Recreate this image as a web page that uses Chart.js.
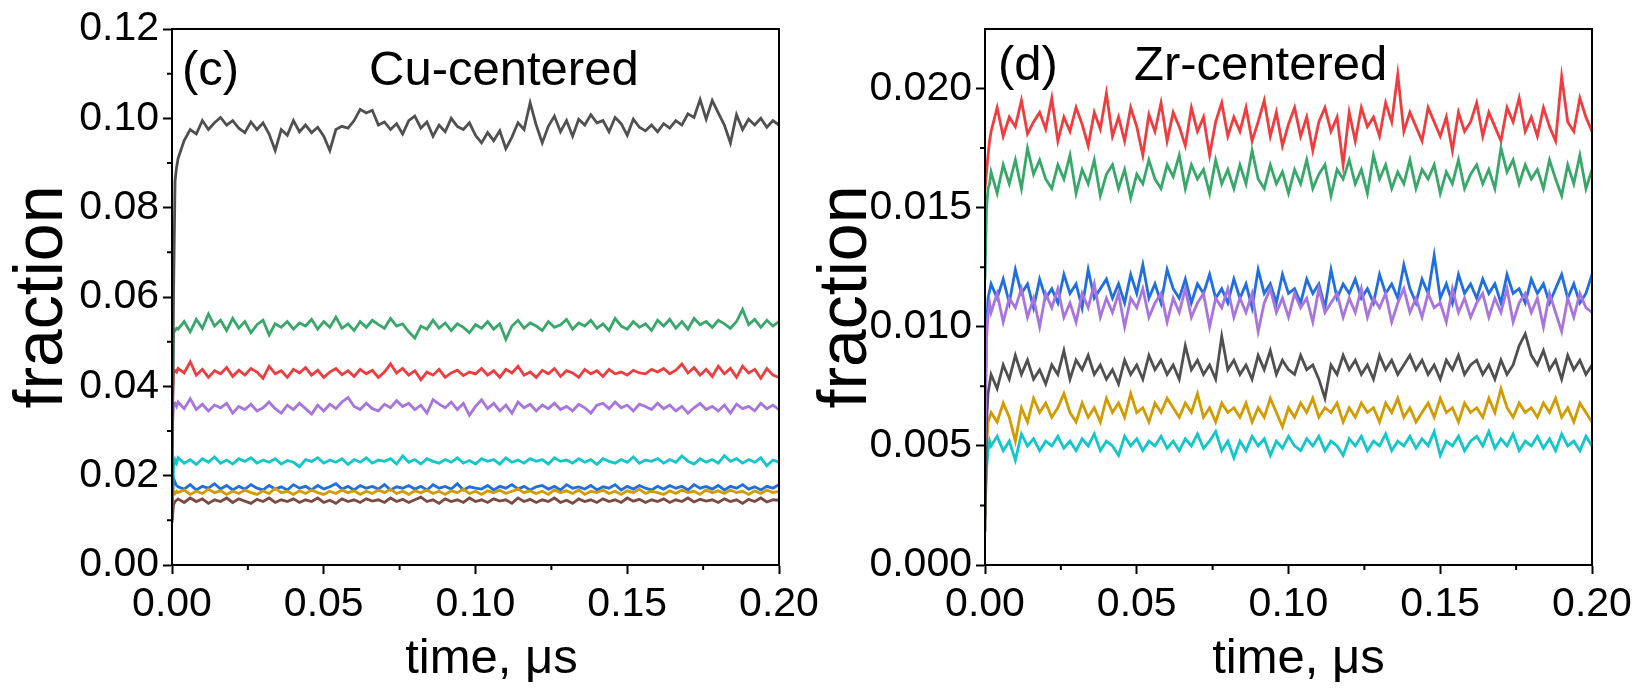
<!DOCTYPE html>
<html lang="en">
<head>
<meta charset="UTF-8">
<title>Cu / Zr centered fractions</title>
<script src="https://cdn.jsdelivr.net/npm/chart.js"></script>
<style>
  body { margin: 0; background: #fff; }
  .wrap { position: relative; width: 1638px; height: 694px; overflow: hidden; }
  canvas { position: absolute; top: 0; }
  #panelC { left: 0; }
  #panelD { left: 805px; }
</style>
</head>
<body>
<div class="wrap">
  <canvas id="panelC" width="830" height="694"></canvas>
  <canvas id="panelD" width="833" height="694"></canvas>
</div>

<script>
// time axis, microseconds
const time = [0, 0.0005, 0.001, 0.0015,
  0.002, 0.004, 0.006, 0.008, 0.010, 0.012, 0.014, 0.016, 0.018, 0.020,
  0.022, 0.024, 0.026, 0.028, 0.030, 0.032, 0.034, 0.036, 0.038, 0.040,
  0.042, 0.044, 0.046, 0.048, 0.050, 0.052, 0.054, 0.056, 0.058, 0.060,
  0.062, 0.064, 0.066, 0.068, 0.070, 0.072, 0.074, 0.076, 0.078, 0.080,
  0.082, 0.084, 0.086, 0.088, 0.090, 0.092, 0.094, 0.096, 0.098, 0.100,
  0.102, 0.104, 0.106, 0.108, 0.110, 0.112, 0.114, 0.116, 0.118, 0.120,
  0.122, 0.124, 0.126, 0.128, 0.130, 0.132, 0.134, 0.136, 0.138, 0.140,
  0.142, 0.144, 0.146, 0.148, 0.150, 0.152, 0.154, 0.156, 0.158, 0.160,
  0.162, 0.164, 0.166, 0.168, 0.170, 0.172, 0.174, 0.176, 0.178, 0.180,
  0.182, 0.184, 0.186, 0.188, 0.190, 0.192, 0.194, 0.196, 0.198, 0.200];

// (c) Cu-centered
const cuGray = [0.010, 0.060, 0.086, 0.089,
  0.091, 0.095, 0.0975, 0.0965, 0.0995, 0.0975, 0.0990, 0.1002, 0.0985, 0.0995,
  0.0978, 0.0968, 0.0992, 0.0975, 0.0990, 0.0965, 0.0928, 0.0975, 0.0962, 0.0995,
  0.0970, 0.0985, 0.0968, 0.0980, 0.0960, 0.0928, 0.0975, 0.0982, 0.0978, 0.0995,
  0.1020, 0.1012, 0.1018, 0.0985, 0.0992, 0.0975, 0.0988, 0.0965, 0.0995, 0.1005,
  0.0978, 0.0992, 0.0960, 0.0985, 0.0970, 0.1000, 0.0982, 0.0975, 0.0990, 0.0962,
  0.0945, 0.0968, 0.0950, 0.0972, 0.0932, 0.0958, 0.0990, 0.0975, 0.1035, 0.0985,
  0.0945, 0.0982, 0.1005, 0.0970, 0.0995, 0.0960, 0.0998, 0.0985, 0.1008, 0.0990,
  0.0995, 0.0970, 0.1002, 0.0988, 0.0962, 0.0998, 0.0980, 0.0972, 0.0985, 0.0970,
  0.0988, 0.0978, 0.0995, 0.0985, 0.1010, 0.1002, 0.1042, 0.0998, 0.1040, 0.1012,
  0.0985, 0.0945, 0.1008, 0.0975, 0.0998, 0.0985, 0.1000, 0.0980, 0.0995, 0.0985];
const cuGreen = [0.030, 0.052, 0.0525, 0.053,
  0.0528, 0.0545, 0.0522, 0.0550, 0.0530, 0.0562, 0.0535, 0.0548, 0.0525, 0.0552,
  0.0530, 0.0545, 0.0520, 0.0538, 0.0548, 0.0515, 0.0540, 0.0532, 0.0545, 0.0528,
  0.0542, 0.0535, 0.0550, 0.0528, 0.0545, 0.0532, 0.0555, 0.0530, 0.0540, 0.0525,
  0.0545, 0.0532, 0.0548, 0.0538, 0.0530, 0.0552, 0.0535, 0.0540, 0.0522, 0.0508,
  0.0535, 0.0528, 0.0548, 0.0530, 0.0542, 0.0525, 0.0540, 0.0532, 0.0520, 0.0538,
  0.0530, 0.0545, 0.0528, 0.0540, 0.0505, 0.0535, 0.0548, 0.0530, 0.0542, 0.0535,
  0.0525, 0.0545, 0.0532, 0.0538, 0.0550, 0.0528, 0.0542, 0.0535, 0.0548, 0.0530,
  0.0540, 0.0525, 0.0552, 0.0535, 0.0528, 0.0545, 0.0532, 0.0540, 0.0525, 0.0548,
  0.0535, 0.0550, 0.0530, 0.0545, 0.0528, 0.0552, 0.0538, 0.0545, 0.0532, 0.0548,
  0.0540, 0.0530, 0.0545, 0.0572, 0.0538, 0.0550, 0.0532, 0.0548, 0.0535, 0.0545];
const cuRed = [0.034, 0.043, 0.0435, 0.0432,
  0.0440, 0.0430, 0.0455, 0.0425, 0.0438, 0.0420, 0.0435, 0.0428, 0.0442, 0.0422,
  0.0436, 0.0425, 0.0440, 0.0432, 0.0418, 0.0445, 0.0428, 0.0435, 0.0420, 0.0438,
  0.0430, 0.0442, 0.0425, 0.0436, 0.0420, 0.0432, 0.0440, 0.0426, 0.0435, 0.0422,
  0.0438, 0.0428, 0.0436, 0.0420, 0.0432, 0.0450, 0.0430, 0.0440, 0.0425, 0.0435,
  0.0415, 0.0432, 0.0425, 0.0438, 0.0420, 0.0430, 0.0436, 0.0424, 0.0432, 0.0428,
  0.0440, 0.0425, 0.0435, 0.0420, 0.0438, 0.0430, 0.0445, 0.0425, 0.0432, 0.0420,
  0.0436, 0.0428, 0.0440, 0.0422, 0.0435, 0.0430, 0.0420, 0.0438, 0.0428, 0.0435,
  0.0422, 0.0438, 0.0428, 0.0432, 0.0425, 0.0436, 0.0430, 0.0428, 0.0438, 0.0432,
  0.0440, 0.0428, 0.0436, 0.0450, 0.0430, 0.0442, 0.0425, 0.0438, 0.0422, 0.0445,
  0.0428, 0.0440, 0.0420, 0.0445, 0.0430, 0.0438, 0.0418, 0.0440, 0.0425, 0.0420];
const cuPurple = [0.030, 0.036, 0.0362, 0.0355,
  0.0365, 0.0350, 0.0372, 0.0348, 0.0360, 0.0345, 0.0358, 0.0352, 0.0362, 0.0340,
  0.0355, 0.0348, 0.0360, 0.0345, 0.0352, 0.0365, 0.0350, 0.0340, 0.0358, 0.0348,
  0.0362, 0.0350, 0.0338, 0.0358, 0.0345, 0.0360, 0.0350, 0.0365, 0.0375, 0.0355,
  0.0348, 0.0362, 0.0350, 0.0345, 0.0360, 0.0352, 0.0368, 0.0355, 0.0362, 0.0348,
  0.0358, 0.0340, 0.0370, 0.0360, 0.0352, 0.0365, 0.0348, 0.0362, 0.0335, 0.0355,
  0.0370, 0.0350, 0.0362, 0.0345, 0.0358, 0.0340, 0.0365, 0.0352, 0.0360, 0.0345,
  0.0358, 0.0350, 0.0362, 0.0348, 0.0355, 0.0345, 0.0360, 0.0352, 0.0340, 0.0358,
  0.0362, 0.0350, 0.0365, 0.0352, 0.0358, 0.0345, 0.0360, 0.0355, 0.0348, 0.0362,
  0.0350, 0.0358, 0.0345, 0.0355, 0.0340, 0.0352, 0.0362, 0.0348, 0.0355, 0.0345,
  0.0358, 0.0340, 0.0360, 0.0350, 0.0355, 0.0345, 0.0362, 0.0350, 0.0358, 0.0348];
const cuCyan = [0.012, 0.022, 0.0235, 0.0228,
  0.0240, 0.0228, 0.0236, 0.0225, 0.0238, 0.0230, 0.0242, 0.0228, 0.0235, 0.0226,
  0.0238, 0.0232, 0.0240, 0.0228, 0.0235, 0.0230, 0.0238, 0.0226, 0.0234, 0.0230,
  0.0220, 0.0236, 0.0232, 0.0240, 0.0228, 0.0235, 0.0230, 0.0238, 0.0225, 0.0236,
  0.0230, 0.0240, 0.0228, 0.0235, 0.0232, 0.0238, 0.0226, 0.0244, 0.0230, 0.0236,
  0.0226, 0.0238, 0.0232, 0.0228, 0.0236, 0.0230, 0.0240, 0.0228, 0.0234, 0.0226,
  0.0238, 0.0232, 0.0236, 0.0226, 0.0240, 0.0230, 0.0235, 0.0228, 0.0238, 0.0232,
  0.0236, 0.0226, 0.0240, 0.0232, 0.0235, 0.0228, 0.0238, 0.0230, 0.0236, 0.0225,
  0.0238, 0.0232, 0.0228, 0.0236, 0.0230, 0.0242, 0.0228, 0.0235, 0.0232, 0.0238,
  0.0228, 0.0236, 0.0230, 0.0244, 0.0232, 0.0226, 0.0238, 0.0230, 0.0236, 0.0228,
  0.0245, 0.0232, 0.0238, 0.0228, 0.0236, 0.0230, 0.0240, 0.0222, 0.0235, 0.0230];
const cuBlue = [0.013, 0.0195, 0.0185, 0.0178,
  0.0175, 0.0170, 0.0180, 0.0168, 0.0176, 0.0172, 0.0182, 0.0170, 0.0178, 0.0168,
  0.0176, 0.0170, 0.0180, 0.0172, 0.0168, 0.0178, 0.0170, 0.0175, 0.0168, 0.0180,
  0.0172, 0.0176, 0.0168, 0.0178, 0.0170, 0.0175, 0.0182, 0.0170, 0.0176, 0.0168,
  0.0178, 0.0172, 0.0176, 0.0170, 0.0180, 0.0168, 0.0175, 0.0172, 0.0178, 0.0170,
  0.0176, 0.0168, 0.0180, 0.0172, 0.0176, 0.0170, 0.0182, 0.0168, 0.0175, 0.0172,
  0.0170, 0.0178, 0.0168, 0.0176, 0.0172, 0.0180, 0.0170, 0.0176, 0.0168, 0.0175,
  0.0178, 0.0170, 0.0176, 0.0168, 0.0180, 0.0172, 0.0175, 0.0170, 0.0178, 0.0168,
  0.0175, 0.0172, 0.0180, 0.0168, 0.0176, 0.0170, 0.0178, 0.0172, 0.0168, 0.0176,
  0.0170, 0.0178, 0.0172, 0.0176, 0.0168, 0.0180, 0.0172, 0.0176, 0.0170, 0.0178,
  0.0168, 0.0176, 0.0172, 0.0180, 0.0170, 0.0175, 0.0168, 0.0176, 0.0172, 0.0180];
const cuGold = [0.014, 0.0165, 0.0160, 0.0165,
  0.0162, 0.0168, 0.0158, 0.0165, 0.0160, 0.0170, 0.0162, 0.0166, 0.0158, 0.0165,
  0.0160, 0.0168, 0.0162, 0.0158, 0.0166, 0.0160, 0.0172, 0.0162, 0.0165, 0.0158,
  0.0166, 0.0160, 0.0168, 0.0162, 0.0158, 0.0165, 0.0160, 0.0168, 0.0162, 0.0166,
  0.0158, 0.0165, 0.0160, 0.0168, 0.0162, 0.0170, 0.0160, 0.0165, 0.0158, 0.0166,
  0.0162, 0.0168, 0.0160, 0.0165, 0.0158, 0.0166, 0.0162, 0.0170, 0.0160, 0.0165,
  0.0158, 0.0166, 0.0162, 0.0168, 0.0160, 0.0165, 0.0170, 0.0162, 0.0166, 0.0160,
  0.0165, 0.0158, 0.0168, 0.0162, 0.0166, 0.0160, 0.0168, 0.0158, 0.0165, 0.0162,
  0.0168, 0.0160, 0.0165, 0.0158, 0.0166, 0.0162, 0.0170, 0.0160, 0.0165, 0.0162,
  0.0158, 0.0166, 0.0160, 0.0168, 0.0162, 0.0165, 0.0158, 0.0168, 0.0162, 0.0166,
  0.0160, 0.0168, 0.0162, 0.0165, 0.0158, 0.0166, 0.0160, 0.0168, 0.0162, 0.0165];
const cuBrown = [0.0095, 0.0135, 0.0142, 0.0145,
  0.0148, 0.0140, 0.0150, 0.0142, 0.0148, 0.0138, 0.0146, 0.0142, 0.0150, 0.0140,
  0.0148, 0.0143, 0.0138, 0.0147, 0.0142, 0.0150, 0.0140, 0.0146, 0.0142, 0.0148,
  0.0140, 0.0146, 0.0142, 0.0150, 0.0140, 0.0145, 0.0138, 0.0148, 0.0142, 0.0146,
  0.0140, 0.0148, 0.0143, 0.0146, 0.0140, 0.0150, 0.0142, 0.0147, 0.0140, 0.0146,
  0.0152, 0.0142, 0.0146, 0.0138, 0.0148, 0.0142, 0.0146, 0.0140, 0.0150, 0.0142,
  0.0146, 0.0140, 0.0148, 0.0143, 0.0146, 0.0138, 0.0150, 0.0142, 0.0147, 0.0140,
  0.0146, 0.0142, 0.0150, 0.0140, 0.0145, 0.0138, 0.0148, 0.0142, 0.0146, 0.0140,
  0.0148, 0.0142, 0.0146, 0.0140, 0.0150, 0.0143, 0.0147, 0.0140, 0.0146, 0.0142,
  0.0148, 0.0140, 0.0146, 0.0142, 0.0150, 0.0141, 0.0147, 0.0143, 0.0146, 0.0140,
  0.0148, 0.0142, 0.0146, 0.0138, 0.0147, 0.0142, 0.0150, 0.0141, 0.0146, 0.0145];

// (d) Zr-centered
const zrRed = [0.0158, 0.0165, 0.0172, 0.0178,
  0.0182, 0.0192, 0.0180, 0.0188, 0.0184, 0.0195, 0.0181, 0.0186, 0.0190, 0.0183,
  0.0196, 0.0178, 0.0188, 0.0182, 0.0192, 0.0185, 0.0176, 0.0190, 0.0183, 0.0198,
  0.0180, 0.0188, 0.0178, 0.0192, 0.0184, 0.0172, 0.0189, 0.0182, 0.0194, 0.0178,
  0.0190, 0.0184, 0.0176, 0.0192, 0.0182, 0.0188, 0.0172, 0.0186, 0.0194, 0.0180,
  0.0188, 0.0182, 0.0192, 0.0178, 0.0186, 0.0195, 0.0180, 0.0190, 0.0176, 0.0185,
  0.0192, 0.0180, 0.0188, 0.0174, 0.0186, 0.0192, 0.0182, 0.0188, 0.0168, 0.0190,
  0.0178, 0.0192, 0.0184, 0.0188, 0.0180, 0.0194, 0.0186, 0.0206, 0.0182, 0.0190,
  0.0184, 0.0178, 0.0192, 0.0186, 0.0180, 0.0188, 0.0174, 0.0190, 0.0182, 0.0186,
  0.0194, 0.0180, 0.0190, 0.0184, 0.0178, 0.0192, 0.0186, 0.0196, 0.0182, 0.0188,
  0.0180, 0.0192, 0.0184, 0.0178, 0.0205, 0.0186, 0.0182, 0.0196, 0.0188, 0.0182];
const zrGreen = [0.0120, 0.0150, 0.0158, 0.0160,
  0.0165, 0.0156, 0.0168, 0.0160, 0.0170, 0.0158, 0.0175, 0.0164, 0.0170, 0.0162,
  0.0158, 0.0168, 0.0162, 0.0172, 0.0156, 0.0166, 0.0160, 0.0170, 0.0155, 0.0164,
  0.0168, 0.0158, 0.0166, 0.0154, 0.0164, 0.0160, 0.0170, 0.0162, 0.0158, 0.0168,
  0.0163, 0.0172, 0.0158, 0.0168, 0.0162, 0.0166, 0.0156, 0.0170, 0.0160, 0.0166,
  0.0158, 0.0168, 0.0160, 0.0174, 0.0162, 0.0158, 0.0168, 0.0160, 0.0165, 0.0156,
  0.0166, 0.0160, 0.0170, 0.0158, 0.0164, 0.0168, 0.0155, 0.0166, 0.0162, 0.0170,
  0.0160, 0.0166, 0.0156, 0.0172, 0.0162, 0.0168, 0.0158, 0.0165, 0.0160, 0.0170,
  0.0158, 0.0166, 0.0162, 0.0168, 0.0156, 0.0165, 0.0160, 0.0170, 0.0158, 0.0164,
  0.0168, 0.0160, 0.0166, 0.0158, 0.0175, 0.0165, 0.0170, 0.0160, 0.0168, 0.0162,
  0.0166, 0.0158, 0.0170, 0.0162, 0.0155, 0.0168, 0.0160, 0.0172, 0.0158, 0.0166];
const zrBlue = [0.0060, 0.0100, 0.0112, 0.0115,
  0.0118, 0.0112, 0.0120, 0.0110, 0.0124, 0.0114, 0.0118, 0.0108, 0.0120, 0.0112,
  0.0116, 0.0110, 0.0122, 0.0114, 0.0118, 0.0108, 0.0124, 0.0112, 0.0116, 0.0120,
  0.0112, 0.0118, 0.0110, 0.0122, 0.0114, 0.0126, 0.0112, 0.0118, 0.0110, 0.0124,
  0.0116, 0.0112, 0.0120, 0.0110, 0.0118, 0.0114, 0.0122, 0.0112, 0.0116, 0.0110,
  0.0120, 0.0112, 0.0118, 0.0108, 0.0124, 0.0114, 0.0118, 0.0110, 0.0122, 0.0114,
  0.0116, 0.0110, 0.0120, 0.0114, 0.0118, 0.0108, 0.0124, 0.0112, 0.0118, 0.0114,
  0.0120, 0.0112, 0.0116, 0.0110, 0.0122, 0.0114, 0.0118, 0.0112, 0.0126, 0.0116,
  0.0110, 0.0120, 0.0114, 0.0130, 0.0112, 0.0118, 0.0110, 0.0122, 0.0114, 0.0118,
  0.0112, 0.0120, 0.0114, 0.0118, 0.0110, 0.0122, 0.0114, 0.0116, 0.0110, 0.0120,
  0.0114, 0.0118, 0.0110, 0.0116, 0.0122, 0.0112, 0.0118, 0.0110, 0.0114, 0.0122];
const zrPurple = [0.0050, 0.0095, 0.0105, 0.0110,
  0.0106, 0.0114, 0.0102, 0.0112, 0.0108, 0.0116, 0.0104, 0.0112, 0.0100, 0.0114,
  0.0108, 0.0116, 0.0104, 0.0110, 0.0102, 0.0114, 0.0108, 0.0118, 0.0104, 0.0112,
  0.0106, 0.0114, 0.0100, 0.0112, 0.0108, 0.0116, 0.0104, 0.0110, 0.0114, 0.0102,
  0.0112, 0.0106, 0.0116, 0.0104, 0.0110, 0.0114, 0.0100, 0.0112, 0.0108, 0.0116,
  0.0104, 0.0112, 0.0106, 0.0114, 0.0098, 0.0110, 0.0116, 0.0106, 0.0112, 0.0104,
  0.0114, 0.0108, 0.0112, 0.0102, 0.0116, 0.0106, 0.0110, 0.0114, 0.0104, 0.0112,
  0.0106, 0.0116, 0.0104, 0.0112, 0.0108, 0.0114, 0.0102, 0.0110, 0.0116, 0.0106,
  0.0112, 0.0104, 0.0114, 0.0108, 0.0110, 0.0102, 0.0116, 0.0106, 0.0112, 0.0104,
  0.0110, 0.0114, 0.0104, 0.0112, 0.0106, 0.0116, 0.0102, 0.0110, 0.0114, 0.0106,
  0.0112, 0.0100, 0.0114, 0.0106, 0.0098, 0.0112, 0.0104, 0.0114, 0.0108, 0.0106];
const zrGray = [0.0014, 0.0060, 0.0072, 0.0076,
  0.0080, 0.0074, 0.0084, 0.0078, 0.0088, 0.0080, 0.0086, 0.0078, 0.0082, 0.0076,
  0.0084, 0.0080, 0.0090, 0.0078, 0.0086, 0.0082, 0.0088, 0.0080, 0.0084, 0.0078,
  0.0082, 0.0076, 0.0086, 0.0080, 0.0084, 0.0078, 0.0088, 0.0082, 0.0086, 0.0080,
  0.0084, 0.0078, 0.0092, 0.0082, 0.0086, 0.0080, 0.0084, 0.0078, 0.0096, 0.0082,
  0.0086, 0.0080, 0.0084, 0.0078, 0.0088, 0.0082, 0.0090, 0.0080, 0.0086, 0.0082,
  0.0080, 0.0088, 0.0082, 0.0084, 0.0078, 0.0070, 0.0084, 0.0080, 0.0088, 0.0082,
  0.0086, 0.0080, 0.0084, 0.0078, 0.0088, 0.0082, 0.0086, 0.0080, 0.0084, 0.0088,
  0.0082, 0.0086, 0.0080, 0.0084, 0.0078, 0.0086, 0.0082, 0.0088, 0.0080, 0.0084,
  0.0086, 0.0080, 0.0084, 0.0078, 0.0086, 0.0080, 0.0084, 0.0092, 0.0097, 0.0088,
  0.0084, 0.0090, 0.0082, 0.0086, 0.0078, 0.0088, 0.0082, 0.0086, 0.0080, 0.0084];
const zrGold = [0.0020, 0.0050, 0.0060, 0.0062,
  0.0064, 0.0060, 0.0068, 0.0062, 0.0052, 0.0066, 0.0060, 0.0070, 0.0064, 0.0068,
  0.0062, 0.0066, 0.0072, 0.0064, 0.0060, 0.0068, 0.0062, 0.0066, 0.0060, 0.0070,
  0.0064, 0.0068, 0.0062, 0.0072, 0.0064, 0.0066, 0.0060, 0.0068, 0.0064, 0.0070,
  0.0066, 0.0062, 0.0068, 0.0064, 0.0072, 0.0062, 0.0066, 0.0060, 0.0068, 0.0064,
  0.0066, 0.0062, 0.0068, 0.0060, 0.0066, 0.0062, 0.0070, 0.0064, 0.0058, 0.0066,
  0.0062, 0.0068, 0.0064, 0.0070, 0.0062, 0.0066, 0.0064, 0.0068, 0.0060, 0.0066,
  0.0062, 0.0068, 0.0064, 0.0066, 0.0060, 0.0068, 0.0064, 0.0070, 0.0062, 0.0066,
  0.0060, 0.0064, 0.0068, 0.0062, 0.0070, 0.0064, 0.0066, 0.0060, 0.0068, 0.0064,
  0.0066, 0.0062, 0.0070, 0.0064, 0.0074, 0.0066, 0.0062, 0.0068, 0.0064, 0.0066,
  0.0062, 0.0068, 0.0064, 0.0070, 0.0062, 0.0066, 0.0060, 0.0068, 0.0064, 0.0060];
const zrCyan = [0.0020, 0.0040, 0.0048, 0.0052,
  0.0050, 0.0054, 0.0048, 0.0052, 0.0044, 0.0055, 0.0050, 0.0053, 0.0048, 0.0052,
  0.0050, 0.0054, 0.0049, 0.0052, 0.0048, 0.0053, 0.0050, 0.0055, 0.0048, 0.0052,
  0.0050, 0.0046, 0.0054, 0.0050, 0.0053, 0.0048, 0.0052, 0.0050, 0.0054, 0.0049,
  0.0052, 0.0048, 0.0053, 0.0050, 0.0055, 0.0049, 0.0052, 0.0056, 0.0048, 0.0052,
  0.0045, 0.0052, 0.0048, 0.0054, 0.0050, 0.0053, 0.0046, 0.0052, 0.0049, 0.0054,
  0.0050, 0.0048, 0.0053, 0.0050, 0.0054, 0.0048, 0.0052, 0.0050, 0.0046, 0.0053,
  0.0050, 0.0054, 0.0048, 0.0052, 0.0050, 0.0055, 0.0048, 0.0052, 0.0050, 0.0054,
  0.0049, 0.0053, 0.0050, 0.0056, 0.0046, 0.0052, 0.0050, 0.0054, 0.0048, 0.0052,
  0.0054, 0.0050, 0.0056, 0.0049, 0.0053, 0.0050, 0.0055, 0.0048, 0.0052, 0.0050,
  0.0054, 0.0049, 0.0053, 0.0048, 0.0055, 0.0050, 0.0052, 0.0048, 0.0054, 0.0050];

// ticks
const xMajor = [0, 0.05, 0.10, 0.15, 0.20];
const xMinor = [0.025, 0.075, 0.125, 0.175];
const cuMajor = [0, 0.02, 0.04, 0.06, 0.08, 0.10, 0.12];
const cuMinor = [0.01, 0.03, 0.05, 0.07, 0.09, 0.11];
const zrMajor = [0, 0.005, 0.010, 0.015, 0.020];
const zrMinor = [0.0025, 0.0075, 0.0125, 0.0175];

const colors = {
  gray: '#505050', green: '#38a86a', red: '#ef3d3f', purple: '#a874dd',
  cyan: '#12c7c9', blue: '#1f6fe0', gold: '#d29b00', brown: '#7a4b44'
};
const FONT = "'Liberation Sans', Arial, sans-serif";

function series(label, values, color) {
  return {
    label: label,
    data: values.map((v, i) => ({ x: time[i], y: v })),
    borderColor: color,
    borderWidth: 2.8,
    pointRadius: 0,
    tension: 0,
    fill: false
  };
}

// box around the plot, minor ticks, x title and the panel captions
const framePlugin = {
  id: 'frame',
  afterDraw(chart, args, opts) {
    const { ctx, chartArea: a, scales } = chart;
    ctx.save();
    ctx.strokeStyle = '#000';
    ctx.lineWidth = 2;
    ctx.strokeRect(a.left, a.top, a.right - a.left, a.bottom - a.top);
    ctx.beginPath();
    opts.xMinor.forEach(v => {
      const px = scales.x.getPixelForValue(v);
      ctx.moveTo(px, a.bottom); ctx.lineTo(px, a.bottom + 5);
    });
    opts.yMinor.forEach(v => {
      const py = scales.y.getPixelForValue(v);
      ctx.moveTo(a.left, py); ctx.lineTo(a.left - 5, py);
    });
    ctx.stroke();
    ctx.fillStyle = '#000';
    ctx.font = '49px ' + FONT;
    ctx.textBaseline = 'alphabetic';
    ctx.fillText(opts.tag, a.left + opts.tagX, opts.baseY);
    ctx.fillText(opts.caption, a.left + opts.captionX, opts.baseY);
    ctx.textAlign = 'center';
    ctx.fillText('time, μs', (a.left + a.right) / 2 + opts.titleShift, 673);
    ctx.restore();
  }
};

function makePanel(id, datasets, y, extra) {
  const keep = (list) => (scale) => {
    scale.ticks = list.map(v => ({ value: v }));
  };
  return new Chart(document.getElementById(id), {
    type: 'line',
    data: { datasets: datasets },
    plugins: [framePlugin],
    options: {
      responsive: false,
      animation: false,
      devicePixelRatio: 1,
      layout: { padding: { top: 29, right: extra.padRight, bottom: 0, left: 0 } },
      plugins: {
        legend: { display: false },
        tooltip: { enabled: false },
        frame: extra.frame
      },
      scales: {
        x: {
          type: 'linear', min: 0, max: 0.2,
          afterBuildTicks: keep(xMajor),
          afterFit: (s) => { s.height = 129; },
          ticks: {
            autoSkip: false, maxRotation: 0, padding: 6, color: '#000',
            font: { family: FONT, size: 41 },
            callback: (v) => v.toFixed(2)
          },
          grid: { drawOnChartArea: false, drawTicks: true, tickLength: 9, tickWidth: 2, tickColor: '#000' },
          border: { display: true, color: '#000', width: 2 },
          title: { display: false }
        },
        y: {
          type: 'linear', min: 0, max: y.max,
          afterBuildTicks: keep(y.major),
          afterFit: (s) => { s.width = y.width; },
          ticks: {
            autoSkip: false, padding: 4, color: '#000',
            font: { family: FONT, size: 41 },
            callback: (v) => v.toFixed(y.digits)
          },
          grid: { drawOnChartArea: false, drawTicks: true, tickLength: 9, tickWidth: 2, tickColor: '#000' },
          border: { display: true, color: '#000', width: 2 },
          title: {
            display: true, text: 'fraction', color: '#000',
            font: { family: FONT, size: 68 }, padding: { top: y.titlePad, bottom: 0 }
          }
        }
      }
    }
  });
}

makePanel('panelC', [
  series('gray', cuGray, colors.gray),
  series('green', cuGreen, colors.green),
  series('red', cuRed, colors.red),
  series('purple', cuPurple, colors.purple),
  series('cyan', cuCyan, colors.cyan),
  series('gold', cuGold, colors.gold),
  series('blue', cuBlue, colors.blue),
  series('brown', cuBrown, colors.brown)
], { max: 0.12, major: cuMajor, digits: 2, width: 172, titlePad: 2 }, {
  padRight: 51,
  frame: { xMinor: xMinor, yMinor: cuMinor, tag: '(c)', caption: 'Cu-centered', tagX: 10, captionX: 197, baseY: 85, titleShift: 16 }
});

makePanel('panelD', [
  series('purple', zrPurple, colors.purple),
  series('blue', zrBlue, colors.blue),
  series('red', zrRed, colors.red),
  series('green', zrGreen, colors.green),
  series('gray', zrGray, colors.gray),
  series('gold', zrGold, colors.gold),
  series('cyan', zrCyan, colors.cyan)
], { max: 0.0225, major: zrMajor, digits: 3, width: 180, titlePad: 1 }, {
  padRight: 46,
  frame: { xMinor: xMinor, yMinor: zrMinor, tag: '(d)', caption: 'Zr-centered', tagX: 13, captionX: 149, baseY: 80, titleShift: 10 }
});
</script>
</body>
</html>
